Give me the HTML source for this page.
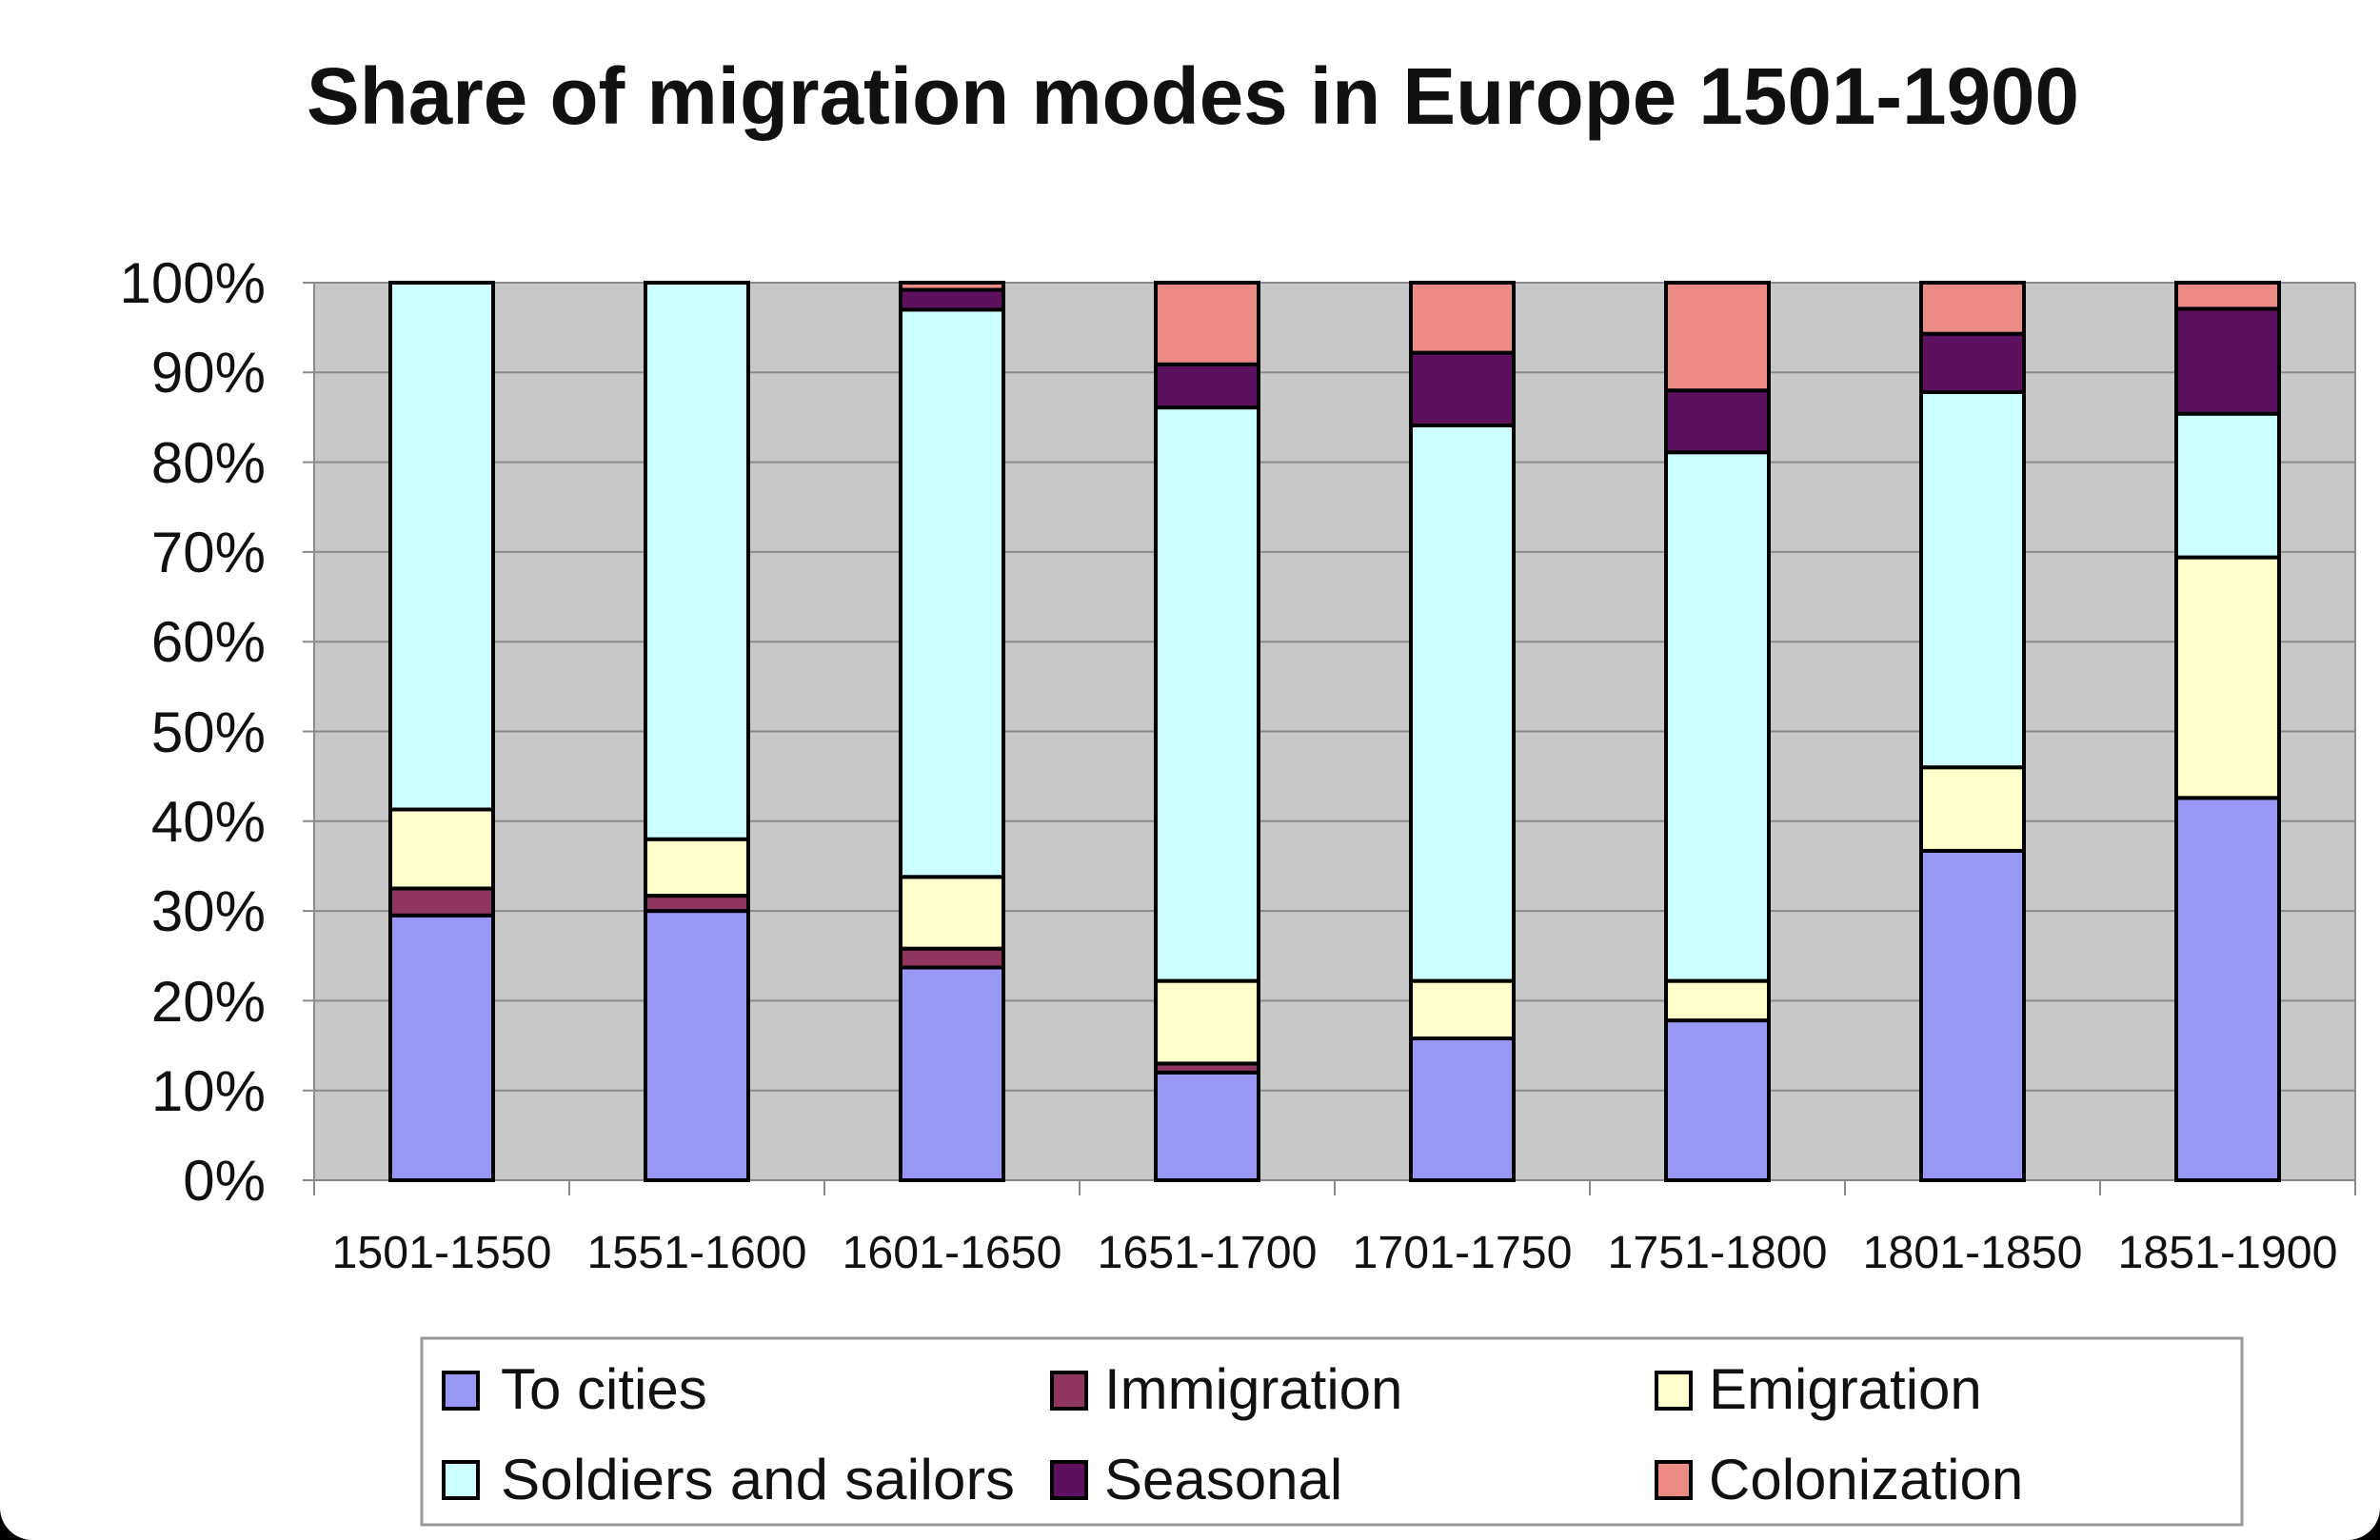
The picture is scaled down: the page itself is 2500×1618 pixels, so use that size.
<!DOCTYPE html>
<html><head><meta charset="utf-8"><style>
html,body{margin:0;padding:0;background:#000;}
.wrap{width:2500px;height:1618px;background:#fff;border-radius:0 0 34px 34px;overflow:hidden;}
svg{display:block;font-family:"Liberation Sans",sans-serif;}
</style></head><body><div class="wrap">
<svg width="2500" height="1618" viewBox="0 0 2500 1618">
<text x="1253" y="130" font-size="84" font-weight="bold" text-anchor="middle" textLength="1862" lengthAdjust="spacingAndGlyphs" fill="#111">Share of migration modes in Europe 1501-1900</text>
<rect x="330" y="297" width="2144" height="943" fill="#c8c8c8"/>
<g stroke="#8a8a8a" stroke-width="2">
<line x1="318" x2="2474" y1="297" y2="297"/><line x1="318" x2="2474" y1="391.3" y2="391.3"/>
<line x1="318" x2="2474" y1="485.6" y2="485.6"/><line x1="318" x2="2474" y1="579.9" y2="579.9"/>
<line x1="318" x2="2474" y1="674.2" y2="674.2"/><line x1="318" x2="2474" y1="768.5" y2="768.5"/>
<line x1="318" x2="2474" y1="862.8" y2="862.8"/><line x1="318" x2="2474" y1="957.1" y2="957.1"/>
<line x1="318" x2="2474" y1="1051.4" y2="1051.4"/><line x1="318" x2="2474" y1="1145.7" y2="1145.7"/>
<line x1="318" x2="2474" y1="1240" y2="1240"/>
<line x1="330" x2="330" y1="297" y2="1256"/><line x1="2474" x2="2474" y1="297" y2="1256"/>
<line x1="598" x2="598" y1="1240" y2="1256"/><line x1="866" x2="866" y1="1240" y2="1256"/>
<line x1="1134" x2="1134" y1="1240" y2="1256"/><line x1="1402" x2="1402" y1="1240" y2="1256"/>
<line x1="1670" x2="1670" y1="1240" y2="1256"/><line x1="1938" x2="1938" y1="1240" y2="1256"/>
<line x1="2206" x2="2206" y1="1240" y2="1256"/>
</g>
<g font-size="60" text-anchor="end" fill="#111">
<text x="279" y="318">100%</text><text x="279" y="412">90%</text><text x="279" y="507">80%</text>
<text x="279" y="601">70%</text><text x="279" y="695">60%</text><text x="279" y="790">50%</text>
<text x="279" y="884">40%</text><text x="279" y="978">30%</text><text x="279" y="1073">20%</text>
<text x="279" y="1167">10%</text><text x="279" y="1261">0%</text>
</g>
<g stroke="#000" stroke-width="4">
<rect x="410" y="961.8" width="108" height="278.2" fill="#9999f5"/>
<rect x="410" y="933.5" width="108" height="28.3" fill="#8e3560"/>
<rect x="410" y="850.5" width="108" height="83" fill="#ffffcc"/>
<rect x="410" y="297" width="108" height="553.5" fill="#ccffff"/>
<rect x="678" y="957.1" width="108" height="282.9" fill="#9999f5"/>
<rect x="678" y="941.1" width="108" height="16" fill="#8e3560"/>
<rect x="678" y="881.7" width="108" height="59.4" fill="#ffffcc"/>
<rect x="678" y="297" width="108" height="584.7" fill="#ccffff"/>
<rect x="946" y="1016.5" width="108" height="223.5" fill="#9999f5"/>
<rect x="946" y="996.7" width="108" height="19.8" fill="#8e3560"/>
<rect x="946" y="921.3" width="108" height="75.4" fill="#ffffcc"/>
<rect x="946" y="325.3" width="108" height="596" fill="#ccffff"/>
<rect x="946" y="304.5" width="108" height="20.8" fill="#5c105e"/>
<rect x="946" y="297" width="108" height="7.5" fill="#ec8a86"/>
<rect x="1214" y="1126.8" width="108" height="113.2" fill="#9999f5"/>
<rect x="1214" y="1117.4" width="108" height="9.4" fill="#8e3560"/>
<rect x="1214" y="1030.6" width="108" height="86.8" fill="#ffffcc"/>
<rect x="1214" y="428.1" width="108" height="602.5" fill="#ccffff"/>
<rect x="1214" y="382.8" width="108" height="45.3" fill="#5c105e"/>
<rect x="1214" y="297" width="108" height="85.8" fill="#ec8a86"/>
<rect x="1482" y="1091" width="108" height="149" fill="#9999f5"/>
<rect x="1482" y="1030.6" width="108" height="60.4" fill="#ffffcc"/>
<rect x="1482" y="447" width="108" height="583.6" fill="#ccffff"/>
<rect x="1482" y="370.6" width="108" height="76.4" fill="#5c105e"/>
<rect x="1482" y="297" width="108" height="73.6" fill="#ec8a86"/>
<rect x="1750" y="1072.1" width="108" height="167.9" fill="#9999f5"/>
<rect x="1750" y="1030.6" width="108" height="41.5" fill="#ffffcc"/>
<rect x="1750" y="475.2" width="108" height="555.4" fill="#ccffff"/>
<rect x="1750" y="410.2" width="108" height="65" fill="#5c105e"/>
<rect x="1750" y="297" width="108" height="113.2" fill="#ec8a86"/>
<rect x="2018" y="893.9" width="108" height="346.1" fill="#9999f5"/>
<rect x="2018" y="806.2" width="108" height="87.7" fill="#ffffcc"/>
<rect x="2018" y="412" width="108" height="394.2" fill="#ccffff"/>
<rect x="2018" y="350.7" width="108" height="61.3" fill="#5c105e"/>
<rect x="2018" y="297" width="108" height="53.7" fill="#ec8a86"/>
<rect x="2286" y="838.3" width="108" height="401.7" fill="#9999f5"/>
<rect x="2286" y="585.6" width="108" height="252.7" fill="#ffffcc"/>
<rect x="2286" y="434.7" width="108" height="150.9" fill="#ccffff"/>
<rect x="2286" y="324.4" width="108" height="110.3" fill="#5c105e"/>
<rect x="2286" y="297" width="108" height="27.4" fill="#ec8a86"/>
</g>
<g font-size="48" text-anchor="middle" fill="#111">
<text x="464" y="1332" textLength="231" lengthAdjust="spacingAndGlyphs">1501-1550</text>
<text x="732" y="1332" textLength="231" lengthAdjust="spacingAndGlyphs">1551-1600</text>
<text x="1000" y="1332" textLength="231" lengthAdjust="spacingAndGlyphs">1601-1650</text>
<text x="1268" y="1332" textLength="231" lengthAdjust="spacingAndGlyphs">1651-1700</text>
<text x="1536" y="1332" textLength="231" lengthAdjust="spacingAndGlyphs">1701-1750</text>
<text x="1804" y="1332" textLength="231" lengthAdjust="spacingAndGlyphs">1751-1800</text>
<text x="2072" y="1332" textLength="231" lengthAdjust="spacingAndGlyphs">1801-1850</text>
<text x="2340" y="1332" textLength="231" lengthAdjust="spacingAndGlyphs">1851-1900</text>
</g>
<rect x="443" y="1406" width="1912" height="196" fill="#fff" stroke="#999" stroke-width="3"/>
<g stroke="#000" stroke-width="4">
<rect x="466" y="1442" width="36" height="38" fill="#9999f5"/>
<rect x="1105" y="1442" width="36" height="38" fill="#8e3560"/>
<rect x="1740" y="1442" width="36" height="38" fill="#ffffcc"/>
<rect x="466" y="1536" width="36" height="38" fill="#ccffff"/>
<rect x="1105" y="1536" width="36" height="38" fill="#5c105e"/>
<rect x="1740" y="1536" width="36" height="38" fill="#ec8a86"/>
</g>
<g font-size="60" fill="#111">
<text x="526" y="1480">To cities</text>
<text x="1160" y="1480">Immigration</text>
<text x="1795" y="1480">Emigration</text>
<text x="526" y="1575" textLength="540" lengthAdjust="spacingAndGlyphs">Soldiers and sailors</text>
<text x="1160" y="1575">Seasonal</text>
<text x="1795" y="1575">Colonization</text>
</g>
</svg>
</div></body></html>
